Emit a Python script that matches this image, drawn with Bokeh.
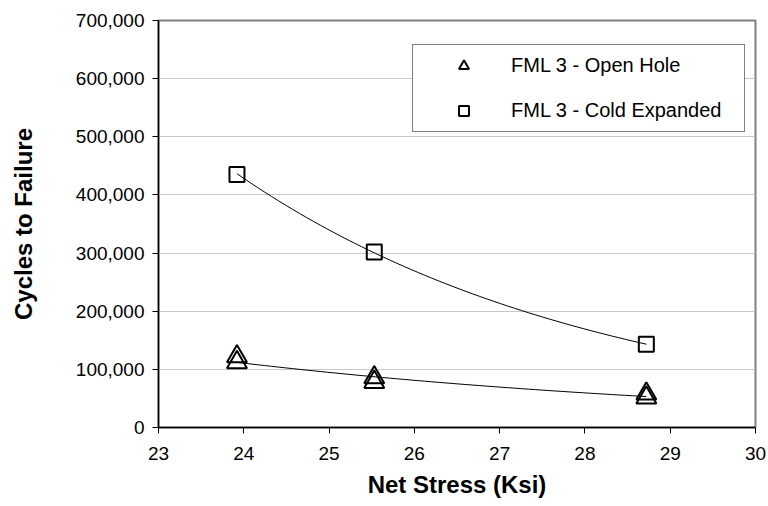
import numpy as np
from bokeh.plotting import figure
from bokeh.models import (NumeralTickFormatter, FixedTicker,
                          Legend, LegendItem, Range1d)
from bokeh.embed import file_html
from bokeh.resources import INLINE

# ---- data ----
open_x = [23.92, 23.92, 25.53, 25.53, 28.72, 28.72]
open_y = [122000, 112000, 86000, 78000, 58000, 51000]
cold_x = [23.92, 25.53, 28.72]
cold_y = [435000, 302000, 143000]
x_ticks = [23, 24, 25, 26, 27, 28, 29, 30]
y_ticks = [0, 100000, 200000, 300000, 400000, 500000, 600000, 700000]
labels = ["FML 3 - Open Hole", "FML 3 - Cold Expanded"]

FONT = "Liberation Sans"

p = figure(width=768, height=506, output_backend="svg", toolbar_location=None,
           x_range=Range1d(23, 30), y_range=Range1d(0, 700000),
           min_border_left=158, min_border_right=13, min_border_top=20,
           min_border_bottom=79)
p.outline_line_color = "#808080"
p.outline_line_width = 2
p.background_fill_color = "white"

# grid
p.xgrid.visible = False
p.ygrid.grid_line_color = "#c8c8c8"
p.ygrid.grid_line_width = 1
p.ygrid.ticker = FixedTicker(ticks=y_ticks)

# axes
p.xaxis.ticker = FixedTicker(ticks=x_ticks)
p.yaxis.ticker = FixedTicker(ticks=y_ticks)
p.yaxis.formatter = NumeralTickFormatter(format="0,0")
for ax in (p.xaxis[0], p.yaxis[0]):
    ax.axis_line_color = "black"
    ax.axis_line_width = 1.5
    ax.major_tick_line_color = "black"
    ax.major_tick_line_width = 1
    ax.major_tick_out = 6
    ax.major_tick_in = 0
    ax.minor_tick_line_color = None
    ax.major_label_text_font = FONT
    ax.major_label_text_font_size = "19px"
    ax.major_label_text_color = "black"
    ax.axis_label_text_font = FONT
    ax.axis_label_text_font_style = "bold"
    ax.axis_label_text_font_size = "24px"
    ax.axis_label_text_color = "black"
p.xaxis.axis_label = "Net Stress (Ksi)"
p.yaxis.axis_label = "Cycles to Failure"
p.xaxis.major_label_standoff = 13
p.yaxis.major_label_standoff = 8
p.xaxis.axis_label_standoff = 8
p.yaxis.axis_label_standoff = 36

# trend lines: exponential least-squares fits of the data (as the spreadsheet trendline)
def exp_fit(xs, ys):
    b, a = np.polyfit(np.array(xs), np.log(np.array(ys)), 1)
    xx = np.linspace(min(xs), max(xs), 60)
    return xx, np.exp(a + b * xx)

ox, oy = exp_fit(open_x, open_y)
cx, cy = exp_fit(cold_x, cold_y)
p.line(ox, oy, line_color="black", line_width=1)
p.line(cx, cy, line_color="black", line_width=1)

r_open = p.scatter(x=open_x, y=open_y, marker="triangle", size=20,
                   fill_color="white", fill_alpha=0, line_color="black", line_width=2)
r_cold = p.scatter(x=cold_x, y=cold_y, marker="square", size=15,
                   fill_color="white", fill_alpha=0, line_color="black", line_width=2)

legend = Legend(items=[LegendItem(label=labels[0], renderers=[r_open]),
                       LegendItem(label=labels[1], renderers=[r_cold])],
                location=(254, 295), orientation="vertical")
legend.border_line_color = "black"
legend.border_line_width = 1
legend.background_fill_color = "white"
legend.background_fill_alpha = 1
legend.label_text_font = FONT
legend.label_text_font_size = "20px"
legend.label_text_color = "black"
legend.glyph_height = 25
legend.glyph_width = 85
legend.label_height = 25
legend.label_standoff = 5
legend.label_width = 225
legend.padding = 8
legend.spacing = 20
legend.margin = 0
p.add_layout(legend, "center")

open("out.html", "w").write(file_html(p, INLINE))
